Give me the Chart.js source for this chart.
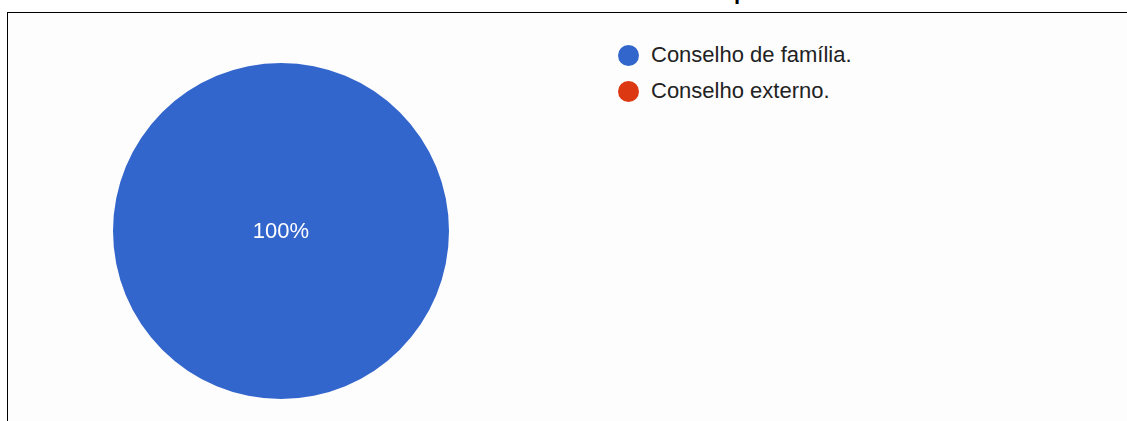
<!DOCTYPE html>
<html>
<head>
<meta charset="utf-8">
<script src="https://cdn.jsdelivr.net/npm/chart.js@4/dist/chart.umd.min.js"></script>
<style>
  html, body { margin: 0; padding: 0; background: #ffffff; overflow: hidden; }
  body { width: 1127px; height: 421px; position: relative; font-family: "Liberation Sans", Arial, sans-serif; }
  .titulo { position: absolute; left: 734px; top: -19px; font-size: 22px; line-height: 22px; font-weight: bold; color: #000; white-space: nowrap; }
  .quadro { position: absolute; left: 7px; top: 12px; right: -2px; bottom: -2px; border-top: 1px solid #000; border-left: 1px solid #000; background: #fdfdfd; }
  .grafico { position: absolute; left: 0; top: 0; width: 552px; height: 408px; }
  #legenda { position: absolute; left: 610px; top: 24px; margin: 0; padding: 0; list-style: none; }
  #legenda li { display: flex; align-items: center; height: 36px; font-size: 22px; color: #222; white-space: nowrap; }
  #legenda span.bola { display: inline-block; width: 21px; height: 21px; border-radius: 50%; margin-right: 12px; }
</style>
</head>
<body>
<div class="titulo">p</div>
<div class="quadro">
  <div class="grafico"><canvas id="pizza" width="552" height="408"></canvas></div>
  <ul id="legenda"></ul>
</div>
<script>
const categorias = ["Conselho de família.", "Conselho externo."];
const percentuais = [100, 0];
const cores = ["#3366cc", "#dc3912"];

const pizza = document.getElementById("pizza");

// legenda em HTML montada a partir dos itens do próprio gráfico
const legendaHtml = {
  id: "legendaHtml",
  afterUpdate(chart) {
    const ul = document.getElementById("legenda");
    ul.innerHTML = "";
    const itens = chart.options.plugins.legend.labels.generateLabels(chart);
    itens.forEach((item) => {
      const li = document.createElement("li");
      const bola = document.createElement("span");
      bola.className = "bola";
      bola.style.background = item.fillStyle;
      li.appendChild(bola);
      li.appendChild(document.createTextNode(item.text));
      ul.appendChild(li);
    });
  },
};

// percentual escrito dentro da fatia
const rotulos = {
  id: "rotulos",
  afterDatasetsDraw(chart) {
    const ctx = chart.ctx;
    const meta = chart.getDatasetMeta(0);
    const valores = chart.data.datasets[0].data;
    const total = valores.reduce((a, b) => a + b, 0);
    ctx.save();
    ctx.fillStyle = "#ffffff";
    ctx.font = "22px 'Liberation Sans', Arial, sans-serif";
    ctx.textAlign = "center";
    ctx.textBaseline = "middle";
    meta.data.forEach((arc, i) => {
      const v = valores[i];
      if (!v) return;
      const pct = Math.round((v / total) * 100);
      let pos;
      if (pct === 100) {
        pos = { x: arc.x, y: arc.y };
      } else {
        pos = arc.tooltipPosition();
      }
      ctx.fillText(pct + "%", pos.x, pos.y + 1);
    });
    ctx.restore();
  },
};

new Chart(pizza, {
  type: "pie",
  data: {
    labels: categorias,
    datasets: [
      {
        data: percentuais,
        backgroundColor: cores,
        borderWidth: 0,
      },
    ],
  },
  options: {
    responsive: false,
    animation: false,
    layout: {
      padding: { left: 105, right: 111, top: 50, bottom: 22 },
    },
    plugins: {
      legend: { display: false },
      tooltip: { enabled: false },
    },
  },
  plugins: [legendaHtml, rotulos],
});
</script>
</body>
</html>
